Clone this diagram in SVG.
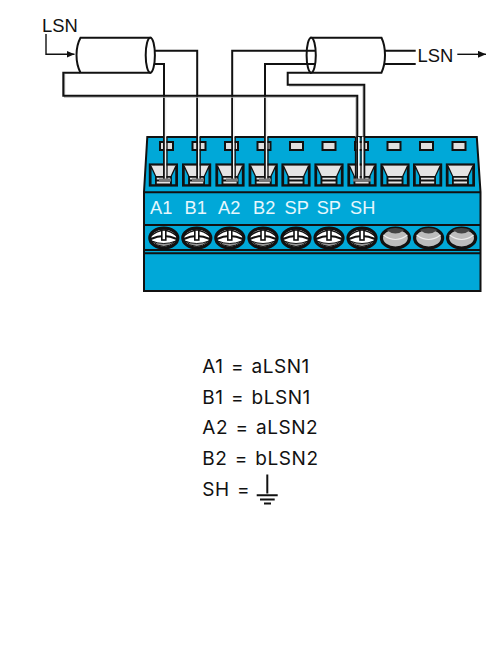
<svg xmlns="http://www.w3.org/2000/svg" width="486" height="670" viewBox="0 0 486 670">
<style>
.k{fill:none;stroke:#111;stroke-width:2}
.g{fill:none;stroke:#b5b5b5;stroke-width:1.2}
.w{fill:none;stroke:#f2f2f2;stroke-width:1.6}
.l{fill:none;stroke:#111;stroke-width:1.3}
.lab{font-family:"Liberation Sans",Arial,sans-serif;font-size:18.4px;fill:#111}
.bl{font-family:"Liberation Sans",Arial,sans-serif;font-size:18.2px;fill:#e6f7fd}
.leg{font-family:Inter,"Liberation Sans",sans-serif;font-size:19px;letter-spacing:.55px;word-spacing:1.5px;fill:#111}
.win{fill:#dfdfdf;stroke:#111;stroke-width:2}
.board{fill:#00a8d8;stroke:#111;stroke-width:2}
</style>
<defs>
<marker id="ah" markerWidth="9" markerHeight="8" refX="8" refY="3.5" orient="auto" markerUnits="userSpaceOnUse"><path d="M0 0L8 3.5L0 7Z" fill="#111"/></marker>
<g id="term">
<rect x="-13.5" y="-10.5" width="27" height="21" fill="#e4e4e4" stroke="#111" stroke-width="2.2"/>
<path d="M-12.5 10V-9L-7.5 1.8V10ZM12.5 10V-9L7.5 1.8V10Z" fill="#00a8d8" stroke="#111" stroke-width="1.3"/>
<path d="M-7.5 1.8H7.5V9.5H-7.5ZM-7.5 5.5H7.5" fill="#e4e4e4" stroke="#111" stroke-width="1.8"/>
</g>
<g id="screw">
<ellipse rx="14" ry="10" fill="#fff" stroke="#111" stroke-width="3.2"/>
<path d="M-13 1Q0 -5 13 1" fill="none" stroke="#111" stroke-width="2"/>
<path d="M-12 3Q0 14 12 3Q0 8 -12 3Z" fill="#999" stroke="#111" stroke-width="1"/>
<path d="M-13 -2Q0 -13 13 -2" fill="none" stroke="#111" stroke-width="1.4"/>
<rect x="-2" y="-8" width="4" height="10" fill="#fff" stroke="#111" stroke-width="1.6"/>
</g>
<g id="blank">
<ellipse rx="14" ry="10" fill="#bcbcbc" stroke="#111" stroke-width="3.2"/>
<path d="M-9 -8Q0 -1 9 -8Q0 -12 -9 -8Z" fill="#444"/>
<path d="M-12 -3Q0 6 12 -3" fill="none" stroke="#eee" stroke-width="1.2"/>
</g>
</defs>

<g id="terminal-block">
<path class="board" d="M147.3 137H476.8L480.5 192V291H144V192Z"/>
<path class="k" d="M144 192.3H480.5M144 225H480.5M144 250H480.5M144 253.3H480.5"/>
<g id="windows">
<rect class="win" x="160" y="142" width="13" height="8"/>
<rect class="win" x="192.5" y="142" width="13" height="8"/>
<rect class="win" x="225" y="142" width="13" height="8"/>
<rect class="win" x="257.5" y="142" width="13" height="8"/>
<rect class="win" x="290" y="142" width="13" height="8"/>
<rect class="win" x="322.5" y="142" width="13" height="8"/>
<rect class="win" x="355" y="142" width="13" height="8"/>
<rect class="win" x="387.5" y="142" width="13" height="8"/>
<rect class="win" x="420" y="142" width="13" height="8"/>
<rect class="win" x="452.5" y="142" width="13" height="8"/>
</g>
<g id="terminals">
<use href="#term" x="163.4" y="175"/>
<use href="#term" x="196.6" y="175"/>
<use href="#term" x="230" y="175"/>
<use href="#term" x="263.2" y="175"/>
<use href="#term" x="296" y="175"/>
<use href="#term" x="329" y="175"/>
<use href="#term" x="362" y="175"/>
<use href="#term" x="395" y="175"/>
<use href="#term" x="427.6" y="175"/>
<use href="#term" x="460.4" y="175"/>
</g>
<g id="screws">
<use href="#screw" x="163.8" y="238"/>
<use href="#screw" x="196.8" y="238"/>
<use href="#screw" x="229.8" y="238"/>
<use href="#screw" x="263" y="238"/>
<use href="#screw" x="296" y="238"/>
<use href="#screw" x="329" y="238"/>
<use href="#screw" x="362" y="238"/>
<use href="#blank" x="395.4" y="238"/>
<use href="#blank" x="428.6" y="238"/>
<use href="#blank" x="461.6" y="238"/>
</g>
<text class="bl" x="150" y="214">A1</text>
<text class="bl" x="184.5" y="214">B1</text>
<text class="bl" x="218" y="214">A2</text>
<text class="bl" x="253" y="214">B2</text>
<text class="bl" x="284.5" y="214">SP</text>
<text class="bl" x="316.7" y="214">SP</text>
<text class="bl" x="350" y="214">SH</text>
</g>

<g id="connectors">
<g id="wires">
<path class="k" d="M155 50.7H197.2V181M155 64H164V181M316 50.7H232.2V181M316 64H265V181M385 50.7H415.7M385 64H415.7"/>
<path class="w" d="M165.6 97V181M198.8 97V181M233.8 97V181M266.6 97V181"/>
<path class="l" d="M167 137V181M200.2 137V181M235.2 137V181M268 137V181"/>
<path d="M159 180H171M192 180H204M226 180H238M259 180H271" stroke="#777" stroke-width="3" fill="none"/>
</g>
<g id="shields">
<path class="g" d="M64.6 74V97.2H356V181"/>
<path class="k" d="M80 72.7H63.3V95.8H357.3V181"/>
<path class="g" d="M289 86H363V181"/>
<path class="k" d="M311 72.7H287.7V84.7H364.3V181"/>
<path class="w" d="M358.8 137V181M362.6 137V181" stroke-width="1.4"/>
<path class="l" d="M355.5 137V181M361 137V181"/>
<path d="M353 180H371" stroke="#777" stroke-width="3" fill="none"/>
</g>
<path id="lsn-in" fill="none" stroke="#111" stroke-width="1.4" marker-end="url(#ah)" d="M46 34V54.3H74.5"/>
<path id="lsn-out" fill="none" stroke="#111" stroke-width="1.4" marker-end="url(#ah)" d="M457.3 54.3H486"/>
</g>

<g id="cable-left">
<path class="k" style="fill:#fff" d="M150.3 37.7H80.5Q76.5 45 76.5 55T80.5 72.7H150.3Z"/>
<ellipse class="k" style="fill:#fff" cx="150.3" cy="55.2" rx="4.6" ry="17.5"/>
</g>
<g id="cable-right">
<path class="k" style="fill:#fff" d="M311 37.7H381.5Q385 45 385 55T381.5 72.7H311Z"/>
<ellipse class="k" style="fill:#fff" cx="311.2" cy="55.2" rx="4.6" ry="17.5"/>
<path class="k" d="M306.6 50.7H316M306.6 64H316"/>
</g>

<text class="lab" x="42" y="31.5">LSN</text>
<text class="lab" x="417.6" y="62.3">LSN</text>

<g id="legend">
<text class="leg" x="202.3" y="373">A1 = aLSN1</text>
<text class="leg" x="202.3" y="403.5">B1 = bLSN1</text>
<text class="leg" x="202.3" y="434">A2 = aLSN2</text>
<text class="leg" x="202.3" y="464.5">B2 = bLSN2</text>
<text class="leg" x="202.3" y="495.5">SH =</text>
<path d="M267.3 474.5V493.5M256.7 495.2H277.7M260 499.4H274.7M264 503.6H271" fill="none" stroke="#111" stroke-width="2"/>
</g>
</svg>
